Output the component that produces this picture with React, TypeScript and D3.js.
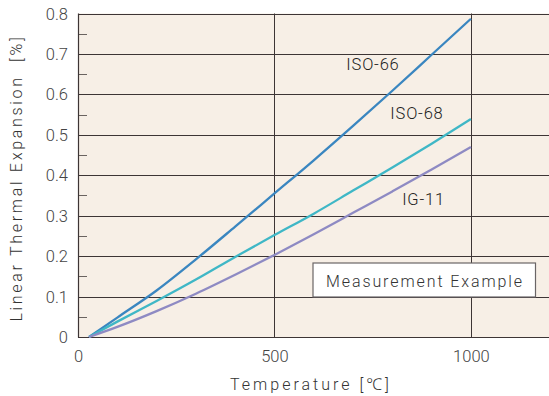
import React from "react";
import * as d3 from "d3";

const temps = [28, 100, 200, 300, 400, 500, 600, 700, 800, 900, 1000];
const iso66 = [0, 0.048, 0.115, 0.192, 0.273, 0.355, 0.437, 0.522, 0.609, 0.698, 0.787];
const iso68 = [0, 0.038, 0.089, 0.142, 0.198, 0.252, 0.305, 0.362, 0.419, 0.478, 0.539];
const ig11 = [0, 0.025, 0.064, 0.107, 0.154, 0.203, 0.254, 0.307, 0.36, 0.414, 0.47];
const seriesNames = ["ISO-66", "ISO-68", "IG-11"];
const seriesColors = ["#3a86c0", "#3fb7c6", "#8e8ac3"];
const yTicks = [0, 0.1, 0.2, 0.3, 0.4, 0.5, 0.6, 0.7, 0.8];
const yMinor = [0.05, 0.15, 0.25, 0.35, 0.45, 0.55, 0.65, 0.75];
const xTicks = [0, 500, 1000];

export default function App() {
  const W = 549, H = 396;
  const L = 78, R = 549, T = 13.5, B = 337;
  const x = d3.scaleLinear().domain([0, 1200]).range([L, R + 0.5]);
  const y = d3.scaleLinear().domain([0, 0.8]).range([B, T]);
  const series = [iso66, iso68, ig11];
  const line = d3
    .line<number>()
    .x((_, i) => x(temps[i]))
    .y((d) => y(d))
    .curve(d3.curveMonotoneX);
  const font = "Roboto, 'Noto Sans', sans-serif";
  const labelPos = [
    { t: 683, v: 0.66 },
    { t: 795, v: 0.54 },
    { t: 825, v: 0.326 },
  ];
  return (
    <svg
      width={W}
      height={H}
      style={{ position: "absolute", left: 0, top: 0 }}
      fontFamily={font}
    >
      <rect x={0} y={0} width={W} height={H} fill="#ffffff" />
      <rect x={L} y={T} width={R - L} height={B - T} fill="#f7efe6" />
      {yTicks.map((v) => (
        <line
          key={"g" + v}
          x1={L}
          x2={R}
          y1={Math.round(y(v)) + 0.5}
          y2={Math.round(y(v)) + 0.5}
          stroke="#3d3535"
          strokeWidth={1}
        />
      ))}
      {yMinor.map((v) => (
        <line
          key={"m" + v}
          x1={L}
          x2={L + 9}
          y1={Math.round(y(v)) + 0.5}
          y2={Math.round(y(v)) + 0.5}
          stroke="#6a6360"
          strokeWidth={1}
        />
      ))}
      {xTicks.slice(1).map((v) => (
        <line
          key={"v" + v}
          x1={Math.round(x(v)) + 0.5}
          x2={Math.round(x(v)) + 0.5}
          y1={T}
          y2={B}
          stroke="#3d3535"
          strokeWidth={1}
        />
      ))}
      <line x1={L + 0.5} x2={L + 0.5} y1={T} y2={B + 0.5} stroke="#3d3535" strokeWidth={1.2} />
      {series.map((s, i) => (
        <path
          key={seriesNames[i]}
          d={line(s) || ""}
          fill="none"
          stroke={seriesColors[i]}
          strokeWidth={2.3}
        />
      ))}
      {series.map((s, i) => (
        <text
          key={"l" + i}
          x={x(labelPos[i].t)}
          y={y(labelPos[i].v)}
          fontSize={16.5}
          fontWeight={300}
          fill="#222"
          letterSpacing={0.8}
        >
          {seriesNames[i]}
        </text>
      ))}
      <rect x={313} y={263} width={222.5} height={34} fill="#ffffff" stroke="#6a6566" strokeWidth={1.2} />
      <text x={425} y={286.5} fontSize={16} fontWeight={300} fill="#333" textAnchor="middle" letterSpacing={1.9}>
        Measurement Example
      </text>
      {yTicks.map((v) => (
        <text
          key={"yt" + v}
          x={68}
          y={y(v) + 6}
          fontSize={16.5}
          fontWeight={300}
          fill="#444"
          textAnchor="end"
        >
          {v === 0 ? "0" : v.toFixed(1)}
        </text>
      ))}
      {xTicks.map((v) => (
        <text
          key={"xt" + v}
          x={x(v) + 0.5}
          y={362}
          fontSize={16.5}
          fontWeight={300}
          fill="#444"
          textAnchor="middle"
        >
          {v}
        </text>
      ))}
      <text
        x={311}
        y={390}
        fontSize={16}
        fontWeight={300}
        fill="#333"
        textAnchor="middle"
        letterSpacing={3}
      >
        Temperature [℃]
      </text>
      <text
        transform="translate(22,178) rotate(-90)"
        fontSize={16}
        fontWeight={300}
        fill="#333"
        textAnchor="middle"
        letterSpacing={2.7}
        style={{ whiteSpace: "pre" }}
      >
        {"Linear Thermal Expansion  [%]"}
      </text>
    </svg>
  );
}
